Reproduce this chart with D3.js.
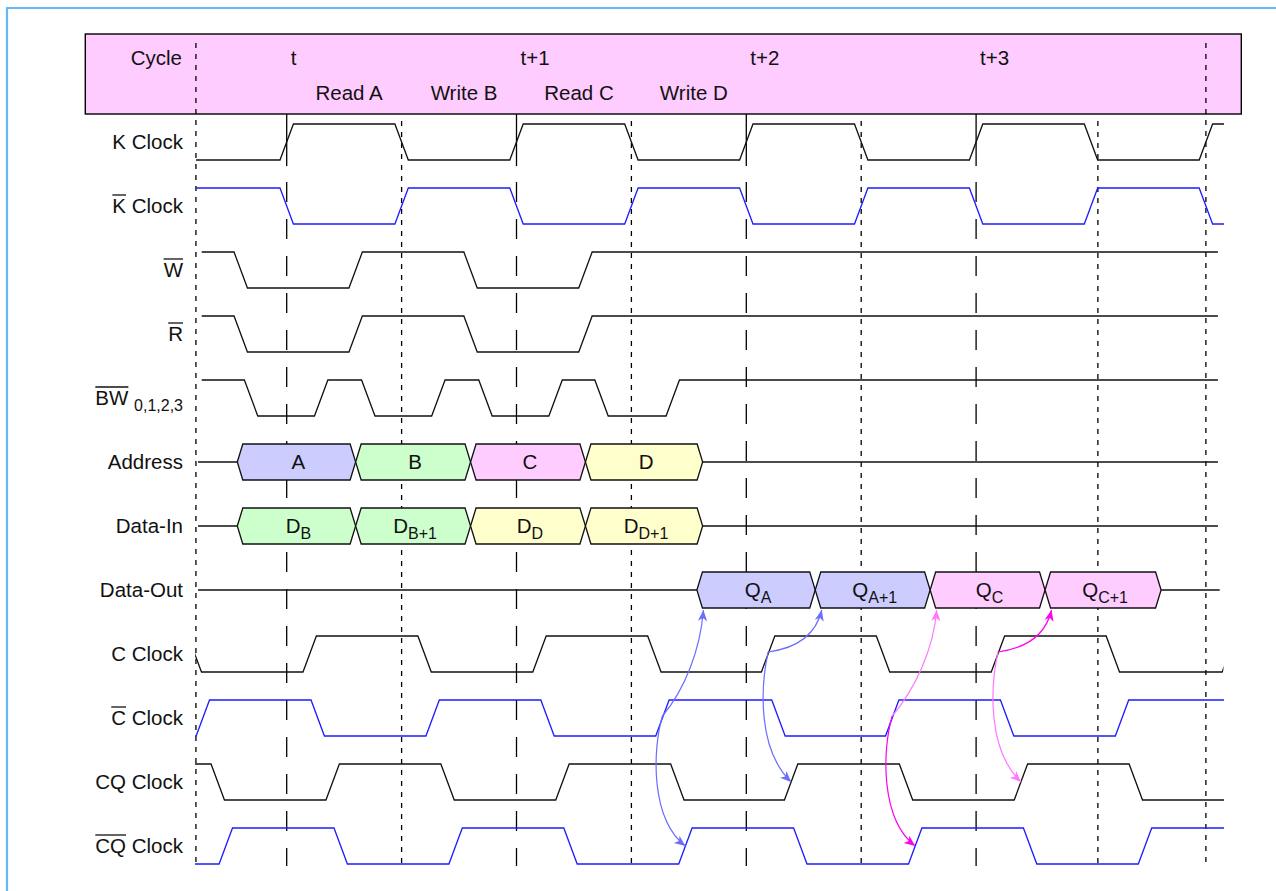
<!DOCTYPE html>
<html>
<head>
<meta charset="utf-8">
<script src="https://cdn.jsdelivr.net/npm/d3@7"></script>
<style>
  html, body { margin: 0; padding: 0; background: #fff; }
  svg { display: block; font-family: "Liberation Sans", Arial, Helvetica, sans-serif; }
</style>
</head>
<body>
<svg id="chart" width="1276" height="891"></svg>
<script>
// ---- data (times are in half-periods of K, 0 = the "t" rising edge) ----
var rowNames   = ["K", "Kb", "W", "R", "BW", "Address", "DataIn", "DataOut", "C", "Cb", "CQ", "CQb"];
var rowLabels  = ["K Clock", "K Clock", "W", "R", "BW", "Address", "Data-In", "Data-Out", "C Clock", "C Clock", "CQ Clock", "CQ Clock"];
var rowOverCnt = [0, 1, 1, 1, 2, 0, 0, 0, 0, 1, 0, 2];   // leading chars with a bar
var rowLabelSub = ["", "", "", "", "0,1,2,3", "", "", "", "", "", "", ""];

var cycleTimes  = [0, 2, 4, 6];
var cycleLabels = ["t", "t+1", "t+2", "t+3"];
var opTimes  = [0, 1, 2, 3];
var opLabels = ["Read A", "Write B", "Read C", "Write D"];

var dashedGuides = [0, 2, 4, 6];
var dottedGuides = [-0.79, 1, 3, 5, 7.06, 8];
var tallGuides   = [-0.79, 8];

var kEdges   = [0, 1, 2, 3, 4, 5, 6, 7, 8];
var wEdges   = [-0.4, 0.6, 1.6, 2.6];
var bwEdges  = [-0.31, 0.3, 0.71, 1.32, 1.73, 2.34, 2.74, 3.36];
var cEdges   = [-0.8, 0.2, 1.2, 2.2, 3.2, 4.19, 5.19, 6.19, 7.19, 8.2];
var cbEdges  = [-0.73, 0.27, 1.27, 2.27, 3.27, 4.28, 5.27, 6.27, 7.27];
var cqEdges  = [-0.6, 0.4, 1.4, 2.4, 3.4, 4.39, 5.39, 6.39, 7.39];
var cqbEdges = [-0.53, 0.47, 1.47, 2.47, 3.47, 4.47, 5.47, 6.47, 7.47];

// row, start level, edges, visible span
var clocks = [
    { row: "K",   start: 0, edges: kEdges,   span: [-0.79, 8.157] },
    { row: "Kb",  start: 1, edges: kEdges,   span: [-0.79, 8.157] },
    { row: "W",   start: 1, edges: wEdges,   span: [-0.74, 8.105] },
    { row: "R",   start: 1, edges: wEdges,   span: [-0.74, 8.105] },
    { row: "BW",  start: 1, edges: bwEdges,  span: [-0.74, 8.105] },
    { row: "C",   start: 1, edges: cEdges,   span: [-0.797, 8.153] },
    { row: "Cb",  start: 0, edges: cbEdges,  span: [-0.797, 8.157] },
    { row: "CQ",  start: 1, edges: cqEdges,  span: [-0.797, 8.157] },
    { row: "CQb", start: 0, edges: cqbEdges, span: [-0.797, 8.157] }
];
var blueRows = ["Kb", "Cb", "CQb"];

var addrTips   = [-0.43, 0.6, 1.6, 2.6, 3.62];
var addrLabels = [["A", ""], ["B", ""], ["C", ""], ["D", ""]];
var addrFills  = ["A", "B", "C", "D"];
var dinTips    = [-0.43, 0.6, 1.6, 2.6, 3.62];
var dinLabels  = [["D", "B"], ["D", "B+1"], ["D", "D"], ["D", "D+1"]];
var dinFills   = ["B", "B", "D", "D"];
var doutTips   = [3.57, 4.6, 5.6, 6.6, 7.61];
var doutLabels = [["Q", "A"], ["Q", "A+1"], ["Q", "C"], ["Q", "C+1"]];
var doutFills  = ["A", "A", "C", "C"];

var buses = [
    { row: "Address", tips: addrTips, labels: addrLabels, fills: addrFills, span: [-0.772, 8.105] },
    { row: "DataIn",  tips: dinTips,  labels: dinLabels,  fills: dinFills,  span: [-0.772, 8.105] },
    { row: "DataOut", tips: doutTips, labels: doutLabels, fills: doutFills, span: [-0.772, 8.12] }
];

// causal arrows: from a clock edge to an output segment or to an echo-clock edge
var arrows = [
    { from: "Cb", t: 3.27, to: "DataOut", seg: 0, read: "A", strong: false },
    { from: "Cb", t: 3.27, to: "CQb", tt: 3.47,   read: "A", strong: false },
    { from: "C",  t: 4.19, to: "DataOut", seg: 1, read: "A", strong: false },
    { from: "C",  t: 4.19, to: "CQ", tt: 4.39,    read: "A", strong: false },
    { from: "Cb", t: 5.27, to: "DataOut", seg: 2, read: "C", strong: false },
    { from: "Cb", t: 5.27, to: "CQb", tt: 5.47,   read: "C", strong: true },
    { from: "C",  t: 6.19, to: "DataOut", seg: 3, read: "C", strong: true },
    { from: "C",  t: 6.19, to: "CQ", tt: 6.39,    read: "C", strong: false }
];

// ---- drawing ----
var svg = d3.select("#chart");
var x = d3.scaleLinear().domain([0, 8]).range([286.7, 1205.9]);
var rowY = d3.scalePoint().domain(rowNames).range([142, 846]);
var amp = 18, edgeW = 13.4, slant = 5.5;
var fillColor = d3.scaleOrdinal().domain(["A", "B", "C", "D"])
    .range(["#ccccff", "#ccffcc", "#ffccff", "#ffffcc"]);
function arrowColor(a) {
    if (a.read === "A") return "#6c6cff";
    return a.strong ? "#ff00f0" : "#ff77ff";
}

// frame
svg.append("path")
    .attr("d", "M7,891 L7,8 L1276,8")
    .attr("fill", "none").attr("stroke", "#66b8f8").attr("stroke-width", 2.2);

// header band
svg.append("rect")
    .attr("x", 85.3).attr("y", 34).attr("width", 1156).attr("height", 80)
    .attr("fill", "#ffccff").attr("stroke", "#000").attr("stroke-width", 1.4);

// guides
var guides = svg.append("g").attr("stroke", "#000").attr("stroke-width", 1.3);
dottedGuides.forEach(function (t) {
    var top = tallGuides.indexOf(t) >= 0 ? 43 : 121;
    guides.append("line")
        .attr("x1", x(t)).attr("x2", x(t)).attr("y1", top).attr("y2", 866)
        .attr("stroke-dasharray", "5,6");
});
dashedGuides.forEach(function (t) {
    guides.append("line")
        .attr("x1", x(t)).attr("x2", x(t)).attr("y1", 114).attr("y2", 166);
    guides.append("line")
        .attr("x1", x(t)).attr("x2", x(t)).attr("y1", 182).attr("y2", 866)
        .attr("stroke-dasharray", "20,17");
});

// header text
var head = svg.append("g").attr("font-size", "20.5px").attr("fill", "#111");
head.append("text").attr("x", 182).attr("y", 65).attr("text-anchor", "end").text("Cycle");
cycleTimes.forEach(function (t, i) {
    head.append("text").attr("x", x(t) + 4).attr("y", 65).text(cycleLabels[i]);
});
opTimes.forEach(function (t, i) {
    head.append("text").attr("x", x(t + 0.5) + 5).attr("y", 99.5)
        .attr("text-anchor", "middle").text(opLabels[i]);
});

// clock waveforms
var defs = svg.append("defs");
clocks.forEach(function (s, i) {
    var c = rowY(s.row);
    var lvl = s.start;
    var yl = function (v) { return v ? c - amp : c + amp; };
    var pts = [[x(s.span[0] - 0.5), yl(lvl)]];
    s.edges.forEach(function (t) {
        pts.push([x(t) - edgeW / 2, yl(lvl)]);
        lvl = 1 - lvl;
        pts.push([x(t) + edgeW / 2, yl(lvl)]);
    });
    pts.push([x(s.span[1] + 0.5), yl(lvl)]);

    defs.append("clipPath").attr("id", "clip" + i)
        .append("rect")
        .attr("x", x(s.span[0])).attr("width", x(s.span[1]) - x(s.span[0]))
        .attr("y", c - 30).attr("height", 60);

    svg.append("path")
        .attr("d", d3.line()(pts))
        .attr("clip-path", "url(#clip" + i + ")")
        .attr("fill", "none")
        .attr("stroke", blueRows.indexOf(s.row) >= 0 ? "#1c1cff" : "#111")
        .attr("stroke-width", 1.3);
});

// buses
buses.forEach(function (b) {
    var c = rowY(b.row);
    var g = svg.append("g");
    g.append("line").attr("x1", x(b.span[0])).attr("x2", x(b.tips[0]))
        .attr("y1", c).attr("y2", c).attr("stroke", "#111").attr("stroke-width", 1.3);
    g.append("line").attr("x1", x(b.tips[b.tips.length - 1])).attr("x2", x(b.span[1]))
        .attr("y1", c).attr("y2", c).attr("stroke", "#111").attr("stroke-width", 1.3);
    b.labels.forEach(function (lab, k) {
        var x0 = x(b.tips[k]), x1 = x(b.tips[k + 1]);
        var pts = [[x0, c], [x0 + slant, c - amp], [x1 - slant, c - amp],
                   [x1, c], [x1 - slant, c + amp], [x0 + slant, c + amp]];
        g.append("polygon")
            .attr("points", pts.map(function (p) { return p.join(","); }).join(" "))
            .attr("fill", fillColor(b.fills[k]))
            .attr("stroke", "#111").attr("stroke-width", 1.3);
        var txt = g.append("text")
            .attr("x", (x0 + x1) / 2 + 2).attr("y", c + 7)
            .attr("text-anchor", "middle").attr("fill", "#111")
            .attr("font-size", "20.5px");
        txt.append("tspan").text(lab[0]);
        if (lab[1]) txt.append("tspan").attr("dy", 6).attr("font-size", "16px").text(lab[1]);
    });
});

// arrows
var markerIds = {};
function markerFor(col) {
    if (markerIds[col]) return markerIds[col];
    var id = "ah" + Object.keys(markerIds).length;
    defs.append("marker").attr("id", id)
        .attr("viewBox", "-12 -6 13 12").attr("refX", 0).attr("refY", 0)
        .attr("markerWidth", 13).attr("markerHeight", 12)
        .attr("markerUnits", "userSpaceOnUse").attr("orient", "auto")
        .append("path").attr("d", "M0,0 L-11,-4.6 L-8,0 L-11,4.6 Z").attr("fill", col);
    markerIds[col] = id;
    return id;
}
arrows.forEach(function (a) {
    var s = [x(a.t), rowY(a.from) - 2];
    var e, c1, c2;
    if (a.to === "DataOut") {
        var tip = doutTips[a.seg];
        e = [x(tip) + slant + 1, rowY("DataOut") + amp + 2];
        if (a.from === "Cb") { c1 = [s[0] + 22, s[1] - 26]; c2 = [e[0] - 3, e[1] + 40]; }
        else { c1 = [s[0] + 22, s[1] - 3]; c2 = [e[0] - 7, e[1] + 30]; }
    } else {
        e = [x(a.tt), rowY(a.to)];
        if (a.from === "Cb") { c1 = [s[0] - 10, s[1] + 34]; c2 = [e[0] - 35, e[1] - 27]; }
        else { c1 = [s[0] - 8, s[1] + 37]; c2 = [e[0] - 33, e[1] - 32]; }
    }
    var col = arrowColor(a);
    svg.append("path")
        .attr("d", "M" + s + " C" + c1 + " " + c2 + " " + e)
        .attr("fill", "none").attr("stroke", col).attr("stroke-width", 1.2)
        .attr("marker-end", "url(#" + markerFor(col) + ")");
});

// row labels with overbars
var labels = svg.append("g").attr("font-size", "20.5px").attr("fill", "#111");
rowNames.forEach(function (r, i) {
    var base = rowY(r) + 7;
    var txt = labels.append("text").attr("x", 183).attr("y", base).attr("text-anchor", "end");
    txt.append("tspan").text(rowLabels[i]);
    if (rowLabelSub[i]) {
        txt.append("tspan").text(" ");
        txt.append("tspan").attr("dy", 6).attr("font-size", "16px").text(rowLabelSub[i]);
    }
    var n = rowOverCnt[i];
    if (n > 0) {
        var node = txt.node();
        var x0 = node.getStartPositionOfChar(0).x;
        var x1 = node.getEndPositionOfChar(n - 1).x;
        labels.append("line")
            .attr("x1", x0).attr("x2", x1).attr("y1", base - 18).attr("y2", base - 18)
            .attr("stroke", "#111").attr("stroke-width", 1.3);
    }
});
</script>
</body>
</html>
